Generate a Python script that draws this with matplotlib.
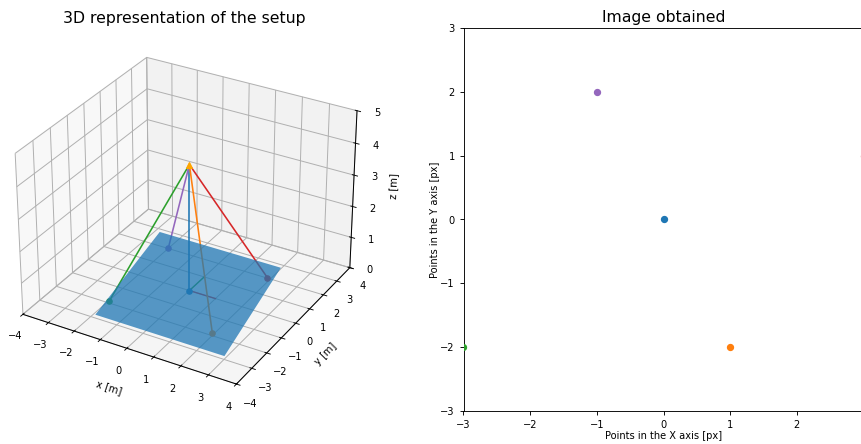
import numpy as np
import matplotlib
matplotlib.use("Agg")
import matplotlib.pyplot as plt

# world points on the ground plane (z = 0)
point_x = [0, 1.93, -1.97, 1.88, -2]
point_y = [0, -1.86, -1.92, 2.02, 2]
line_colors = ["C0", "C1", "C2", "C3", "C4"]

# camera position
cam = [0, 0, 4]

# image coordinates seen by the camera
img_x = [0, 1, -3, 3, -1]
img_y = [0, -2, -2, 1, 2]
img_xticks = [-3, -2, -1, 0, 1, 2]

# image plane corners
plane_x = [[-1.93, 2.92], [-2.83, 1.97]]
plane_y = [[-2.83, -2.83], [2.82, 2.82]]
plane_z = [[0, 0], [0, 0]]

plt.rcParams["font.size"] = 7.1
plt.rcParams["axes.linewidth"] = 0.65
plt.rcParams["xtick.major.width"] = 0.65
plt.rcParams["ytick.major.width"] = 0.65
plt.rcParams["xtick.major.size"] = 2.8
plt.rcParams["ytick.major.size"] = 2.8

fig = plt.figure(figsize=(8.61, 4.44), dpi=100)

ax = fig.add_axes([-0.0395, 0.081, 0.507, 0.856], projection="3d")
ax.computed_zorder = False
fig.text(184 / 861, 1 - 18 / 444, "3D representation of the setup", fontsize=11.3, ha="center", va="center")

# small axes at the origin, these sit below the plane
ax.plot([0, 1], [0, 0], [0, 0], color="C3", lw=1.0, zorder=1)
ax.plot([0, 0], [0, 1], [0, 0], color="C2", lw=1.0, zorder=1)

for px, py, c in zip(point_x, point_y, line_colors):
    ax.plot([cam[0], px], [cam[1], py], [cam[2], 0], color=c, lw=1.15, zorder=2)
    ax.scatter([px], [py], [0], color=c, s=14, alpha=1, depthshade=False, zorder=3)

ax.plot_surface(np.array(plane_x), np.array(plane_y), np.array(plane_z), color="C0", alpha=0.75, shade=False, zorder=4)
ax.scatter([cam[0]], [cam[1]], [cam[2]], color="orange", marker="^", s=16, depthshade=False, zorder=5)

ax.set_xlim(-4, 4)
ax.set_ylim(-4, 4)
ax.set_zlim(0, 5)
ax.set_xlabel("x [m]", labelpad=-1)
ax.set_ylabel("y [m]", labelpad=-1)
ax.set_zlabel("z [m]", labelpad=-3)
ax.tick_params(pad=1)
for axis in (ax.xaxis, ax.yaxis, ax.zaxis):
    axis._axinfo["grid"]["linewidth"] = 0.7
    axis.line.set_linewidth(0.7)
    axis.pane.set_edgecolor((0.95, 0.95, 0.95, 1))

ax2 = fig.add_axes([463.5 / 861, 33 / 444, 400 / 861, 383 / 444])
ax2.set_title("Image obtained", fontsize=11.3, pad=4)
for px, py, c in zip(img_x, img_y, line_colors):
    ax2.scatter(px, py, color=c, s=18, zorder=3)
ax2.set_xlim(-3, 3)
ax2.set_ylim(-3, 3)
ax2.set_xticks(img_xticks)
ax2.set_xlabel("Points in the X axis [px]", labelpad=1)
ax2.set_ylabel("Points in the Y axis [px]", labelpad=0)

fig.savefig("out.png", dpi=100)
